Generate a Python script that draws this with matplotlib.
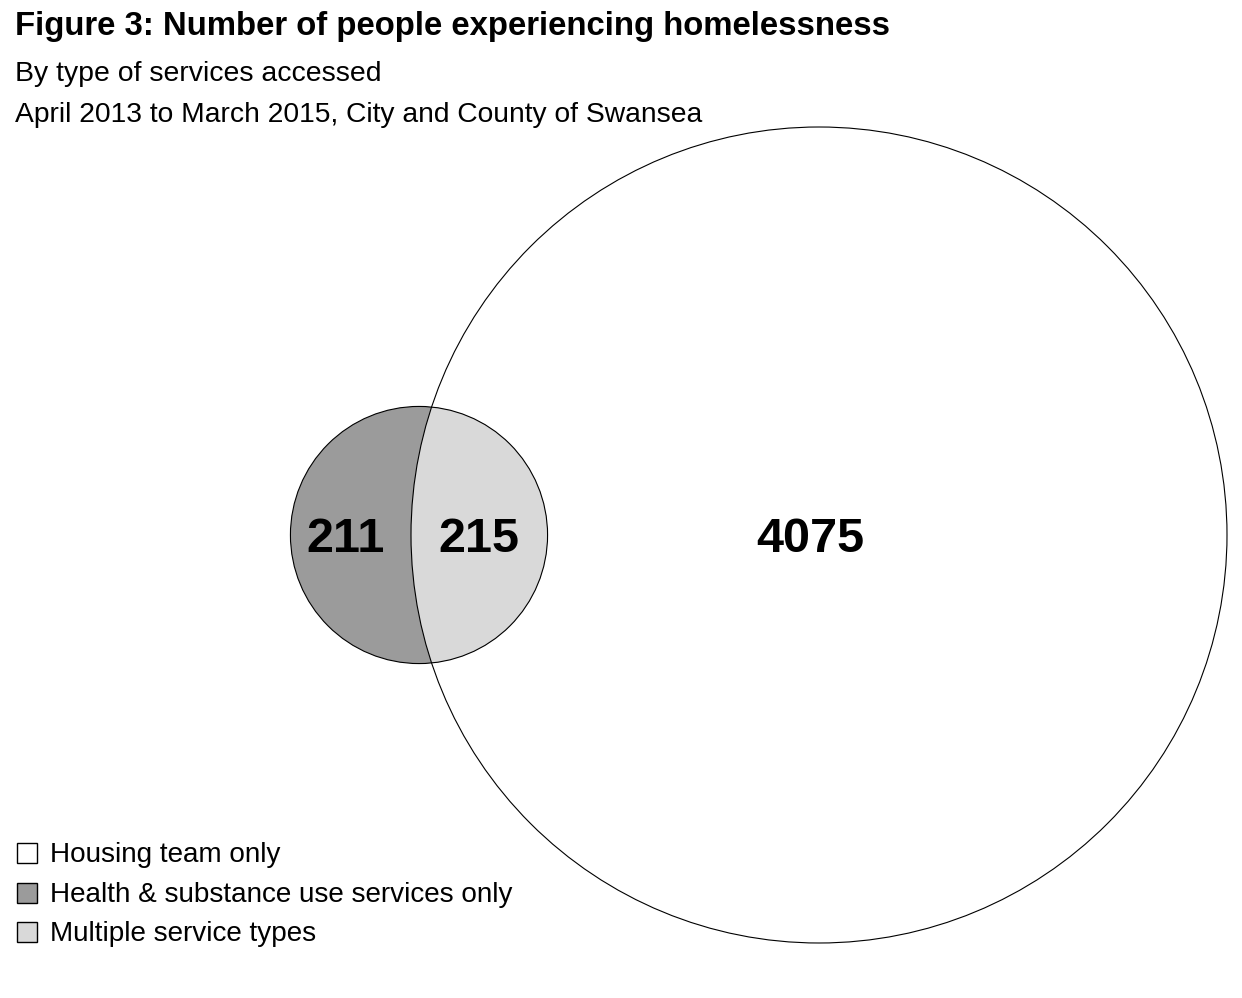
import numpy as np
import matplotlib
matplotlib.use("Agg")
import matplotlib.pyplot as plt
from matplotlib.patches import Circle, Rectangle

plt.rcParams['font.family'] = ['Liberation Sans', 'DejaVu Sans']

# Counts of people by service group
categories = ["Housing team only", "Health & substance use services only", "Multiple service types"]
counts = [4075, 211, 215]
colors = ["#ffffff", "#9b9b9b", "#d9d9d9"]

housing_only, health_only, multiple = counts
big_area = housing_only + multiple
small_area = health_only + multiple

W, H = 1242, 998
fig = plt.figure(figsize=(W / 100, H / 100), dpi=100)
ax = fig.add_axes([0, 0, 1, 1])
ax.set_xlim(0, W)
ax.set_ylim(H, 0)
ax.set_aspect("equal")
ax.axis("off")

# circle areas proportional to group totals
scale = 408 / np.sqrt(big_area / np.pi)
r_big = scale * np.sqrt(big_area / np.pi)
r_small = scale * np.sqrt(small_area / np.pi)
c_big = (819, 535)
c_small = (419, 535)

big_fill = Circle(c_big, r_big, facecolor=colors[0], edgecolor="none", zorder=1)
ax.add_patch(big_fill)
ax.add_patch(Circle(c_small, r_small, facecolor=colors[1], edgecolor="none", zorder=2))
lens = Circle(c_small, r_small, facecolor=colors[2], edgecolor="none", zorder=3)
ax.add_patch(lens)
lens.set_clip_path(big_fill)
ax.add_patch(Circle(c_big, r_big, facecolor="none", edgecolor="black", lw=0.8, zorder=4))
ax.add_patch(Circle(c_small, r_small, facecolor="none", edgecolor="black", lw=0.8, zorder=4))

num_kw = dict(fontsize=35, fontweight="bold", ha="center", va="center", zorder=5)
ax.text(346, 539, f"{health_only}", **num_kw)
ax.text(479, 539, f"{multiple}", **num_kw)
ax.text(810, 539, f"{housing_only}", **num_kw)

# titles
ax.text(15, 26, "Figure 3: Number of people experiencing homelessness",
        fontsize=23.7, fontweight="bold", ha="left", va="center")
ax.text(15, 74, "By type of services accessed", fontsize=20.4, ha="left", va="center")
ax.text(15, 115, "April 2013 to March 2015, City and County of Swansea",
        fontsize=20.3, ha="left", va="center")

# legend
for i, (lab, col) in enumerate(zip(categories, colors)):
    y = 853 + i * 39.5
    ax.add_patch(Rectangle((17, y - 10), 20, 20, facecolor=col, edgecolor="black", lw=1.0))
    ax.text(50, y + 2, lab, fontsize=20.1, ha="left", va="center")

fig.savefig("out.png", dpi=100, facecolor="white")
